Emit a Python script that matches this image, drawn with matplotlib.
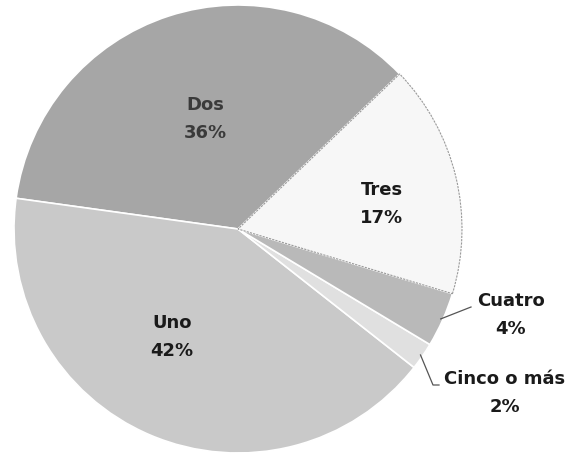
import matplotlib
matplotlib.use("Agg")
import matplotlib.pyplot as plt
import numpy as np

categories = ["Dos", "Uno", "Cinco o más", "Cuatro", "Tres"]
values = [36, 42, 2, 4, 17]
pct_labels = ["36%", "42%", "2%", "4%", "17%"]
colors = ["#a6a6a6", "#c9c9c9", "#e0e0e0", "#b9b9b9", "#f7f7f7"]

W, H = 570, 454
fig = plt.figure(figsize=(W / 100, H / 100), dpi=100)
ax = fig.add_axes([0, 0, 1, 1])

cx, cy, r = 238, 454 - 229, 224
wedges, _ = ax.pie(values, colors=colors, startangle=43.8, counterclock=True,
                   center=(cx, cy), radius=r, frame=True,
                   wedgeprops=dict(edgecolor="white", linewidth=1.2))
ax.set_xlim(0, W)
ax.set_ylim(0, H)
ax.set_aspect("equal")
ax.axis("off")
# faint outline on the white slice
wedges[4].set_edgecolor("#9a9a9a")
wedges[4].set_linewidth(0.8)
wedges[4].set_linestyle((0, (2, 1)))

font = dict(family=["DejaVu Sans"], fontweight="bold",
            fontsize=13, color="#1a1a1a", ha="center", va="center",
            linespacing=1.65)

# inside labels
inside = {"Dos": (205, 119), "Uno": (172, 337), "Tres": (382, 204)}
for i, cat in enumerate(categories):
    if cat in inside:
        x, y = inside[cat]
        f = dict(font)
        f["color"] = "#3a3a3a" if cat == "Dos" else "#1a1a1a"
        ax.text(x, H - y, f"{cat}\n{pct_labels[i]}", **f)

def edge_point(w, frac_r=1.0):
    ang = np.deg2rad((w.theta1 + w.theta2) / 2)
    return cx + r * frac_r * np.cos(ang), cy + r * frac_r * np.sin(ang)

# Cuatro leader
w = wedges[3]
x0, y0 = edge_point(w, 0.99)
ax.plot([x0, 471], [y0, H - 307], color="#555555", lw=0.9)
ax.text(511, H - 315, f"Cuatro\n{pct_labels[3]}", **font)

# Cinco leader
w = wedges[2]
x0, y0 = edge_point(w, 0.99)
ax.plot([x0, 433, 439], [y0, H - 385, H - 385], color="#555555", lw=0.9)
ax.text(505, H - 393, f"Cinco o más\n{pct_labels[2]}", **font)

fig.savefig("out.png", dpi=100)
